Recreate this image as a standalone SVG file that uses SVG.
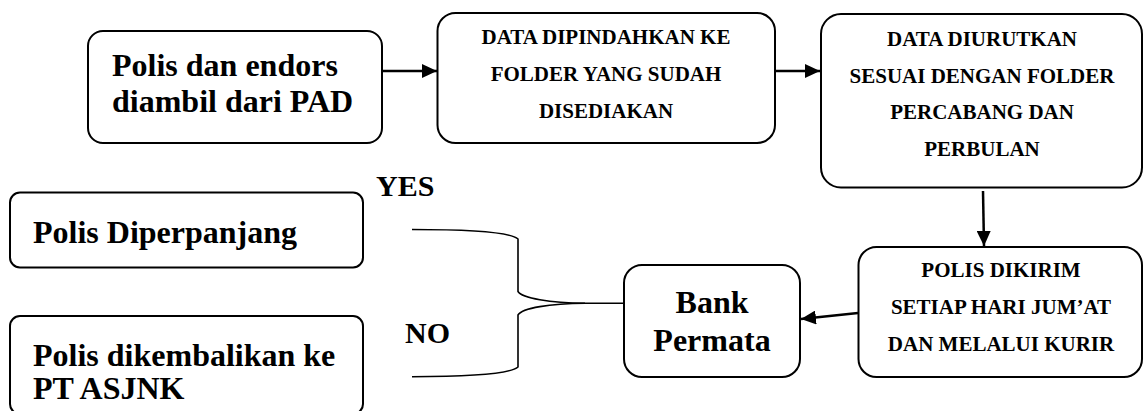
<svg xmlns="http://www.w3.org/2000/svg" width="1144" height="411" viewBox="0 0 1144 411">
  <style>
    .box { fill: #ffffff; stroke: #000000; stroke-width: 2; }
    .t { font-family: 'Liberation Serif', 'Times New Roman', serif; font-weight: 700; fill: #000000; }
    .big { font-size: 32px; }
    .small { font-size: 21px; }
    .lbl { font-size: 30px; }
    .mid { text-anchor: middle; }
    .conn { fill: none; stroke: #000000; stroke-width: 2.5; }
    .brace { fill: none; stroke: #000000; stroke-width: 1.6; }
  </style>
  <defs>
    <marker id="ah" viewBox="0 0 15 14" refX="15" refY="7" markerWidth="15" markerHeight="14" markerUnits="userSpaceOnUse" orient="auto">
      <path d="M0,0 L15,7 L0,14 z" fill="#000000"/>
    </marker>
  </defs>
  <rect width="1144" height="411" fill="#ffffff"/>

  <g id="connectors">
    <path class="conn" d="M382,71 L437,71" marker-end="url(#ah)"/>
    <path class="conn" d="M775,71 L820,71" marker-end="url(#ah)"/>
    <path class="conn" d="M983,191 L984,246" marker-end="url(#ah)"/>
    <path class="conn" d="M858,313 L801,319" marker-end="url(#ah)"/>
    <path class="brace" d="M412,229.5 C470,229.5 510,232 518,239 L518,291.5 C522,298 550,303 585,303.3 L624,303.3"/>
    <path class="brace" d="M412,376.7 C470,376.7 510,374 518,367 L518,315 C522,308 550,303.5 585,303.3"/>
  </g>

  <g id="node-polis-pad">
    <rect class="box" x="88" y="31" width="294" height="112" rx="15"/>
    <text class="t big" x="112" y="76">Polis dan endors</text>
    <text class="t big" x="112" y="112">diambil dari PAD</text>
  </g>

  <g id="node-data-dipindahkan">
    <rect class="box" x="437.5" y="13" width="337.5" height="130" rx="18"/>
    <text class="t small mid" x="606" y="43.5">DATA DIPINDAHKAN KE</text>
    <text class="t small mid" x="606" y="80.5">FOLDER YANG SUDAH</text>
    <text class="t small mid" x="606" y="117.5">DISEDIAKAN</text>
  </g>

  <g id="node-data-diurutkan">
    <rect class="box" x="821" y="14" width="321" height="173.5" rx="20"/>
    <text class="t small mid" x="982" y="46">DATA DIURUTKAN</text>
    <text class="t small mid" x="982" y="82.7">SESUAI DENGAN FOLDER</text>
    <text class="t small mid" x="982" y="119.3">PERCABANG DAN</text>
    <text class="t small mid" x="982" y="156">PERBULAN</text>
  </g>

  <g id="node-polis-dikirim">
    <rect class="box" x="858.5" y="247" width="283.5" height="130" rx="18"/>
    <text class="t small mid" x="1001" y="276.7">POLIS DIKIRIM</text>
    <text class="t small mid" x="1001" y="314">SETIAP HARI JUM’AT</text>
    <text class="t small mid" x="1001" y="351">DAN MELALUI KURIR</text>
  </g>

  <g id="node-bank-permata">
    <rect class="box" x="624" y="265" width="176" height="112" rx="18"/>
    <text class="t big mid" x="712" y="313">Bank</text>
    <text class="t big mid" x="712" y="351">Permata</text>
  </g>

  <g id="node-polis-diperpanjang">
    <rect class="box" x="10" y="192.5" width="353" height="75" rx="10"/>
    <text class="t big" x="33" y="243">Polis Diperpanjang</text>
  </g>

  <g id="node-polis-dikembalikan">
    <rect class="box" x="10" y="316" width="353" height="98" rx="10"/>
    <text class="t big" x="33" y="366">Polis dikembalikan ke</text>
    <text class="t big" x="33" y="399">PT ASJNK</text>
  </g>

  <g id="labels">
    <text class="t lbl" x="376" y="196">YES</text>
    <text class="t lbl" x="405" y="343">NO</text>
  </g>
</svg>
